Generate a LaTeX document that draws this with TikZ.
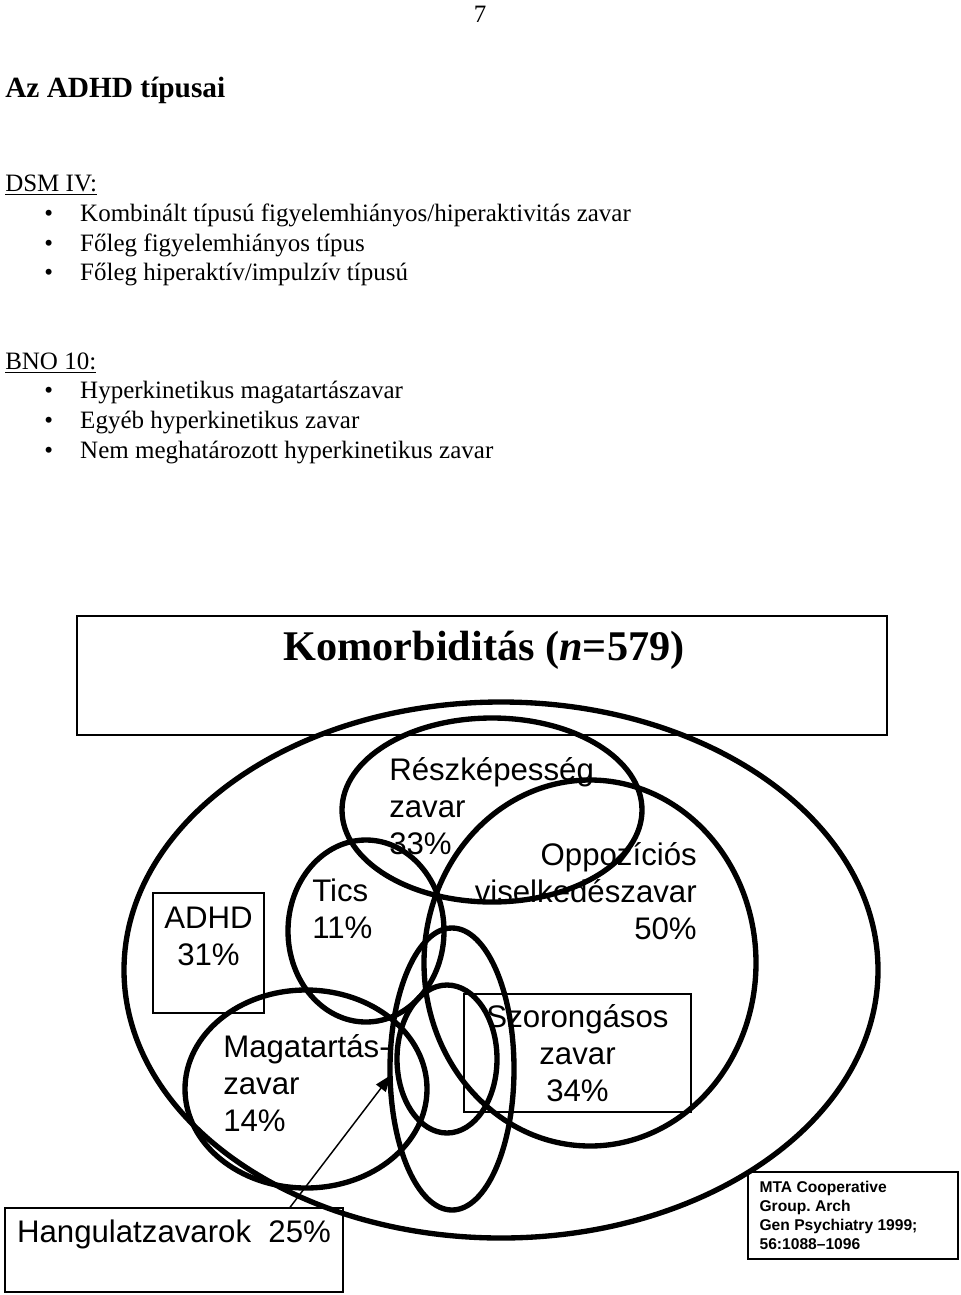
\documentclass[tikz,border=0pt]{standalone}
\usepackage{fontspec}
\setmainfont{Liberation Serif}
\setsansfont{Liberation Sans}
\usetikzlibrary{shapes.geometric, arrows.meta, positioning}

\newcommand{\bul}{\makebox[27pt][l]{\textbullet}}
\frenchspacing

\begin{document}
\begin{tikzpicture}[
    x=0.75pt, y=-0.75pt,
    body/.style={anchor=west, inner sep=0pt, font=\fontsize{18.75}{22.5}\selectfont},
    heading/.style={anchor=west, inner sep=0pt, font=\bfseries\fontsize{22}{26}\selectfont},
    venn/.style={ellipse, draw, line width=4pt, inner sep=0pt},
    frame/.style={rectangle, draw, line width=1pt, inner sep=0pt},
    lbl/.style={inner sep=0pt, align=left, font=\sffamily\fontsize{23.4}{27.7}\selectfont},
    cite/.style={anchor=west, inner sep=0pt, align=left, font=\sffamily\bfseries\fontsize{11.7}{14.4}\selectfont},
    arrow/.style={-{Triangle[length=12.5pt, width=9pt]}, line width=1.1pt},
]
\useasboundingbox (0,0) rectangle (960,1295);

% page head and the two lists
\node[body, anchor=center] (page) at (480,14) {7};
\node[heading] (title) at (5,90) {Az ADHD típusai};

\node[body] (dsm) at (5,185) {\underline{DSM IV:}};
\node[body] (d1) at (44,215) {\bul Kombinált típusú figyelemhiányos/hiperaktivitás zavar};
\node[body] (d2) at (44,245) {\bul Főleg figyelemhiányos típus};
\node[body] (d3) at (44,275) {\bul Főleg hiperaktív/impulzív típusú};

\node[body] (bno) at (5,363) {\underline{BNO 10:}};
\node[body] (b1) at (44,393) {\bul Hyperkinetikus magatartászavar};
\node[body] (b2) at (44,423) {\bul Egyéb hyperkinetikus zavar};
\node[body] (b3) at (44,453) {\bul Nem meghatározott hyperkinetikus zavar};

% comorbidity chart
\node[frame, minimum width=607.5pt, minimum height=89.25pt] (komor) at (482,675.5) {};
\node[inner sep=0pt, font=\bfseries\fontsize{31.7}{38}\selectfont] (komortitle) at (484,650)
    {Komorbiditás (\textit{n}=579)};

\node[frame, minimum width=83.25pt, minimum height=90pt] (adhd) at (208.5,953) {};
\node[lbl, align=center, below=11pt of adhd.north] (adhdtext) {ADHD\\31\%};

\node[frame, minimum width=170.25pt, minimum height=88.5pt] (szorbox) at (577.5,1053) {};
\node[lbl, align=center] (szortext) at (szorbox) {Szorongásos\\zavar\\34\%};

\node[frame, minimum width=253.5pt, minimum height=63pt] (hang) at (174,1250) {};
\node[lbl, below=9.5pt of hang.north] (hangtext) {Hangulatzavarok~~25\%};

\node[frame, minimum width=157.5pt, minimum height=65.25pt] (mta) at (853,1215.5) {};
\node[cite] (mtatext) at ([xshift=9pt]mta.west)
    {MTA Cooperative\\Group. Arch\\Gen Psychiatry 1999;\\56:1088--1096};

\node[lbl, anchor=west] (reszktext) at (389,806) {Részképesség\\zavar\\33\%};
\node[lbl, anchor=east, align=right] (oppoztext) at (697,891) {Oppozíciós\\viselkedészavar\\50\%};
\node[lbl, anchor=west] (ticstext) at (312,909) {Tics\\11\%};
\node[lbl, anchor=west] (magattext) at (223,1083) {Magatartás-\\zavar\\14\%};

\node[venn, minimum width=565.5pt, minimum height=402pt] (outer) at (501,970) {};
\node[venn, minimum width=225pt, minimum height=138pt] (reszk) at (492,810) {};
\node[venn, minimum width=249pt, minimum height=274.5pt] (oppoz) at (590,963) {};
\node[venn, minimum width=117pt, minimum height=136.5pt] (tics) at (366,931) {};
\node[venn, minimum width=181.5pt, minimum height=148.5pt] (magat) at (306,1089) {};
\node[venn, minimum width=93pt, minimum height=211.5pt] (hangul) at (452,1069) {};
\node[venn, minimum width=75pt, minimum height=111pt] (szor) at (447,1059) {};

\coordinate (tip) at (391,1075);
\draw[arrow] ([xshift=87pt]hang.north) -- (tip);
\end{tikzpicture}
\end{document}
